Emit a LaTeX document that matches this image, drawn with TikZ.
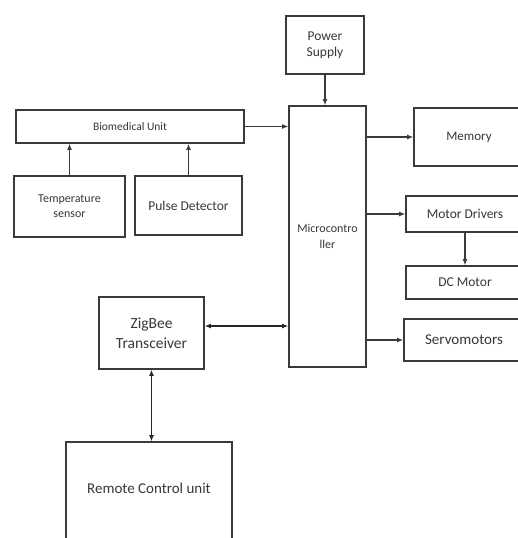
\documentclass[tikz,border=0pt]{standalone}
\usepackage{fontspec}
\setmainfont{Carlito}
\usetikzlibrary{arrows.meta,positioning,calc}
\definecolor{BlockLine}{HTML}{3A3A3A}
\definecolor{BlockText}{HTML}{383838}
\tikzset{
  blockbox/.style={draw=BlockLine,line width=1.4pt,align=center,inner sep=2pt,font=\fontsize{11.5}{13}\selectfont,text=BlockText,fill=white},
  flowarrow/.style={-{Latex[length=2.2mm,width=1.8mm]},line width=1.3pt,draw=BlockLine},
  linkarrow/.style={{Latex[length=2.2mm,width=1.8mm]}-{Latex[length=2.2mm,width=1.8mm]},line width=1.4pt,draw=black!85}
}

\begin{document}
\begin{tikzpicture}[x=1pt,y=-1pt]
\useasboundingbox (0,0) rectangle (518,538);
\node[blockbox,minimum width=78pt,minimum height=58pt,font=\fontsize{13.5}{16}\selectfont] (power) at (325,45) {Power\\Supply};
\node[blockbox,minimum width=77pt,minimum height=261pt,font=\fontsize{12}{16}\selectfont] (micro) at (327.5,236.5) {Microcontro\\ller};
\node[blockbox,minimum width=228pt,minimum height=33pt,font=\fontsize{11.5}{12}\selectfont] (bio) at (130,126.5) {Biomedical Unit};
\node[blockbox,minimum width=111pt,minimum height=61pt,font=\fontsize{12}{15}\selectfont] (temp) at (69.5,206.5) {Temperature\\sensor};
\node[blockbox,minimum width=107pt,minimum height=59pt,font=\fontsize{13.5}{14}\selectfont] (pulse) at (188.5,205.5) {Pulse Detector};
\node[blockbox,minimum width=110pt,minimum height=58pt,font=\fontsize{13}{14}\selectfont] (mem) at (469,137) {Memory};
\node[blockbox,minimum width=118pt,minimum height=36pt,font=\fontsize{13.5}{14}\selectfont] (drv) at (465,214) {Motor Drivers};
\node[blockbox,minimum width=118pt,minimum height=33pt,font=\fontsize{13.5}{14}\selectfont] (dc) at (465,282.5) {DC Motor};
\node[blockbox,minimum width=120pt,minimum height=42pt,font=\fontsize{15}{16}\selectfont] (servo) at (464,340) {Servomotors};
\node[blockbox,minimum width=105pt,minimum height=72pt,font=\fontsize{15.5}{20}\selectfont] (zig) at (151.5,333) {ZigBee\\Transceiver};
\node[blockbox,minimum width=166pt,minimum height=106pt,font=\fontsize{15}{16}\selectfont,text depth=14pt] (remote) at (149,495) {Remote Control unit};

% sensing side
\draw[flowarrow] (power.south) -- (power.south |- micro.north);
\draw[flowarrow] (bio.east) -- (micro.west |- bio.east);
\draw[flowarrow] (temp.north) -- (temp.north |- bio.south);
\draw[flowarrow] (pulse.north) -- (pulse.north |- bio.south);

% actuators
\draw[flowarrow] (micro.east |- mem.west) -- (mem.west);
\draw[flowarrow] (micro.east |- drv.west) -- (drv.west);
\draw[flowarrow] (drv.south) -- (dc.north);
\draw[flowarrow] (micro.east |- servo.west) -- (servo.west);

% wireless link
\draw[linkarrow] ([yshift=7pt]zig.east) -- ([yshift=7pt]micro.west |- zig.east);
\draw[linkarrow] (zig.south) -- (zig.south |- remote.north);
\end{tikzpicture}
\end{document}
